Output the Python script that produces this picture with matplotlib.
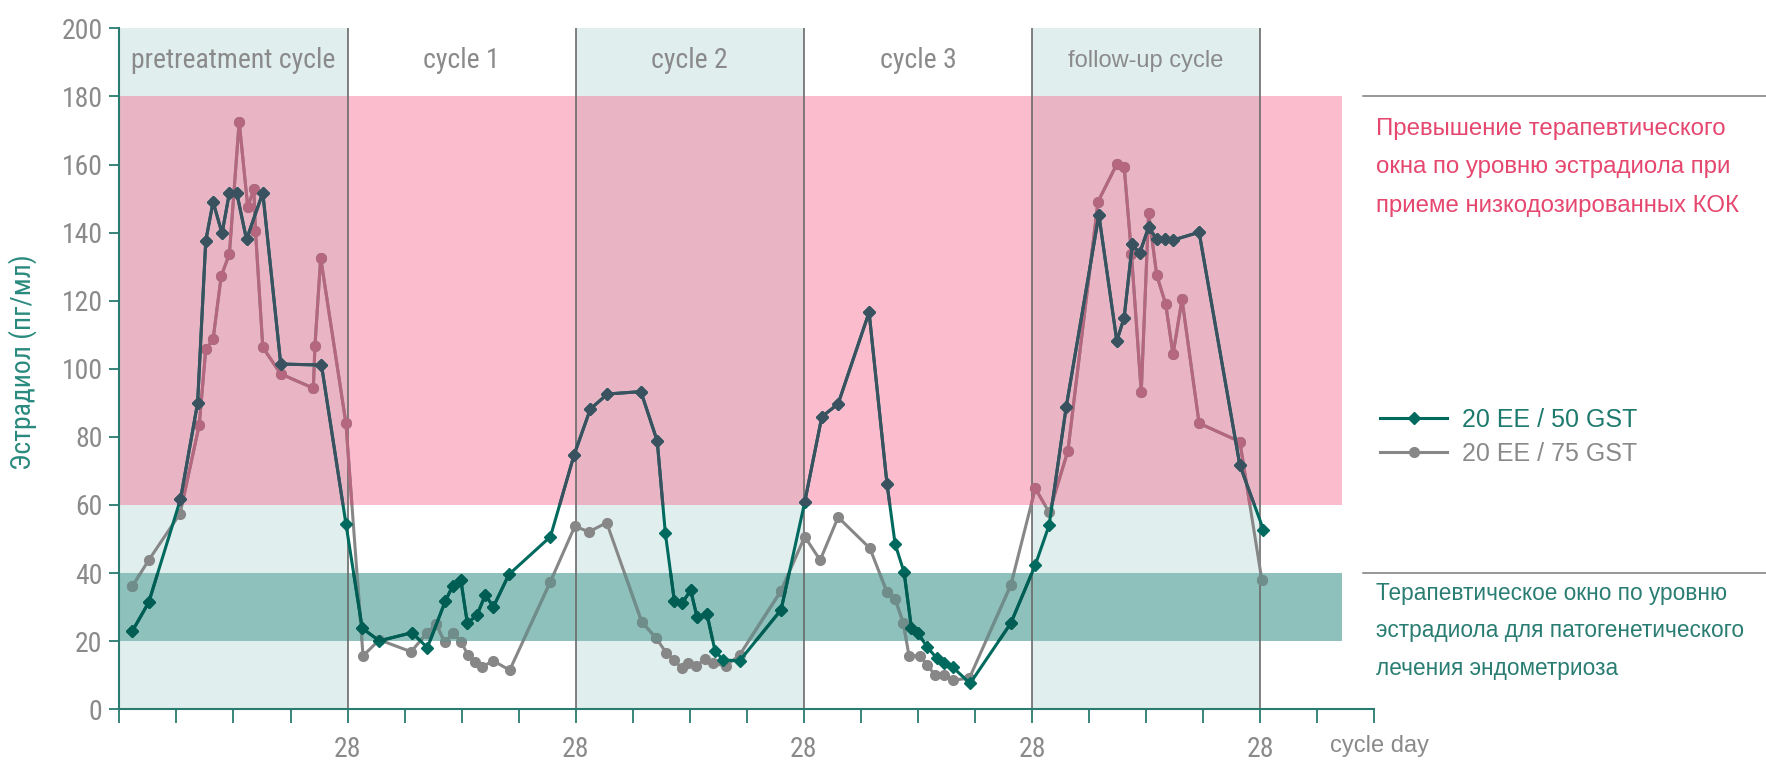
import matplotlib
matplotlib.use("Agg")
import matplotlib.pyplot as plt
import matplotlib.transforms as mtransforms
from matplotlib import font_manager
from matplotlib.patches import Rectangle

# ---------------------------------------- data -------------------------
cycle_names = ["pretreatment cycle", "cycle 1", "cycle 2", "cycle 3", "follow-up cycle"]
cycle_len = 28

day_50 = [1.6, 3.6, 7.5, 9.6, 10.6, 11.5, 12.6, 13.5, 14.4, 15.6, 17.6, 19.8, 24.8, 27.8,
          29.8, 31.9, 35.9, 37.8, 40.0, 40.9, 41.9, 42.7, 43.9, 44.9, 45.9, 47.8, 52.9,
          55.8, 57.8, 59.9, 64.0, 66.0, 67.0, 68.1, 69.1, 70.1, 70.9, 72.1, 73.1, 74.1, 76.1, 81.2, 84.1,
          86.2, 88.2, 92.0, 94.2, 95.2, 96.3, 97.2, 98.0, 99.1, 100.3, 101.2, 102.3, 104.4, 109.4, 112.4,
          114.1, 116.2, 120.2, 122.4, 123.3, 124.3, 125.2, 126.3, 127.3, 128.3, 129.3, 132.5, 137.5, 140.4]
e2_50 = [23.0, 31.4, 61.7, 90.0, 137.6, 149.0, 139.8, 151.7, 151.7, 138.0, 151.7, 101.4, 101.1, 54.5,
         23.8, 20.1, 22.5, 18.1, 31.8, 36.2, 38.0, 25.3, 27.7, 33.6, 30.1, 39.6, 50.7,
         74.7, 88.2, 92.6, 93.3, 78.8, 51.7, 31.9, 31.3, 35.0, 27.0, 28.0, 17.1, 14.5, 14.2, 29.2, 60.8,
         85.9, 89.7, 116.6, 66.2, 48.5, 40.2, 23.8, 22.3, 18.4, 15.0, 13.5, 12.3, 7.6, 25.3, 42.4,
         54.1, 88.9, 145.2, 108.2, 115.0, 136.6, 133.9, 141.6, 138.1, 138.1, 137.8, 140.1, 71.7, 52.7]

day_75 = [1.6, 3.6, 7.45, 9.8, 10.6, 11.5, 12.5, 13.5, 14.7, 15.75, 16.5, 16.7, 17.6, 19.8, 23.8, 24.0, 24.7, 27.8,
          29.9, 31.9, 35.8, 37.7, 38.9, 39.9, 41.0, 41.9, 42.8, 43.7, 44.5, 45.9, 47.9, 52.9,
          55.9, 57.6, 59.8, 64.1, 65.9, 67.1, 68.1, 69.0, 69.8, 70.7, 71.9, 72.9, 74.4, 76.1, 81.2, 84.1,
          86.0, 88.2, 92.1, 94.2, 95.2, 96.2, 96.9, 98.3, 99.1, 100.1, 101.2, 102.3, 104.3, 109.4, 112.4,
          114.1, 116.4, 120.1, 122.4, 123.3, 124.2, 125.4, 126.3, 127.3, 128.4, 129.3, 130.4, 132.5, 137.5, 140.2]
e2_75 = [36.2, 43.8, 57.5, 83.5, 105.7, 108.7, 127.3, 133.7, 172.6, 147.6, 152.7, 140.5, 106.3, 98.5, 94.3, 106.7, 132.6, 84.0,
         15.7, 20.4, 16.9, 22.3, 25.0, 19.7, 22.3, 19.9, 15.9, 14.0, 12.5, 14.2, 11.5, 37.5,
         53.8, 52.1, 54.8, 25.7, 20.8, 16.6, 14.5, 12.0, 13.7, 12.7, 14.7, 13.5, 12.7, 15.9, 34.8, 50.7,
         43.8, 56.4, 47.3, 34.4, 32.3, 25.4, 15.7, 15.7, 13.0, 10.1, 10.1, 8.6, 9.1, 36.5, 64.9,
         57.8, 75.9, 149.1, 160.1, 159.4, 133.7, 93.1, 145.8, 127.5, 119.0, 104.2, 120.4, 84.0, 78.6, 37.9]

high_band = (60, 180)    # above therapeutic window
ther_band = (20, 40)     # therapeutic window
band_end = 150

pink_text = "Превышение терапевтического\nокна по уровню эстрадиола при\nприеме низкодозированных КОК"
teal_text = "Терапевтическое окно по уровню\nэстрадиола для патогенетического\nлечения эндометриоза"

# ---------------------------------------- fonts -------------------------
installed = {f.name for f in font_manager.fontManager.ttflist}
narrow = next((f for f in ["Liberation Sans Narrow", "Roboto Condensed"] if f in installed), "DejaVu Sans")
arial = "Liberation Sans" if "Liberation Sans" in installed else "DejaVu Sans"
plt.rcParams["font.family"] = [narrow, "DejaVu Sans"]
if narrow == "DejaVu Sans":
    plt.rcParams["font.stretch"] = "condensed"

c_col = "#e1eeee"
c_pink = "#fbbccd"
c_mauve = "#e9b5c5"
c_teal = "#8ec0bc"
c_axis = "#2a7b70"
c_grey_txt = "#8a8a8a"

fig = plt.figure(figsize=(17.66, 7.63), dpi=100)
ax = fig.add_axes([0.0676, 0.0704, 0.7106, 0.8925])
ax.set_xlim(0, 154)
ax.set_ylim(0, 200)

# background columns and bands
for i, name in enumerate(cycle_names):
    x0 = i * cycle_len
    if i % 2 == 0:
        ax.add_patch(Rectangle((x0, 0), cycle_len, 200, color=c_col, lw=0, zorder=0))
ax.add_patch(Rectangle((0, high_band[0]), band_end, high_band[1] - high_band[0], color=c_pink, lw=0, zorder=1))
for i in range(0, len(cycle_names), 2):
    ax.add_patch(Rectangle((i * cycle_len, high_band[0]), cycle_len, high_band[1] - high_band[0],
                           color=c_mauve, lw=0, zorder=1.1))
ax.add_patch(Rectangle((0, ther_band[0]), band_end, ther_band[1] - ther_band[0], color=c_teal, lw=0, zorder=1.2))
ax.vlines([cycle_len * (i + 1) for i in range(len(cycle_names))], 0, 200, color="#6b6b6b", lw=1.2, zorder=2)

for i, name in enumerate(cycle_names):
    fam = arial if name == "follow-up cycle" else None
    ax.text(i * cycle_len + cycle_len / 2, 190.5, name, ha="center", va="center", color=c_grey_txt,
            fontsize=17 if fam else 20, family=fam)


def draw_series(days, vals, marker, ms, colors, label, z):
    base, in_pink, in_teal = colors
    line, = ax.plot(days, vals, color=base, marker=marker, ms=ms, lw=2.2, zorder=z, label=label)
    for c, band in ((in_pink, high_band), (in_teal, ther_band)):
        l2, = ax.plot(days, vals, color=c, marker=marker, ms=ms, lw=2.2, zorder=z + 0.05)
        l2.set_clip_path(Rectangle((0, band[0]), band_end, band[1] - band[0], transform=ax.transData))
    return line


l75 = draw_series(day_75, e2_75, "o", 7, ("#878787", "#b4677f", "#6f8e8b"), "20 EE / 75 GST", 3)
l50 = draw_series(day_50, e2_50, "D", 6.3, ("#006a5e", "#3a5260", "#005d54"), "20 EE / 50 GST", 3.2)

# axes styling
for s in ["top", "right"]:
    ax.spines[s].set_visible(False)
for s in ["left", "bottom"]:
    ax.spines[s].set_color(c_axis)
    ax.spines[s].set_linewidth(1.5)
ax.set_yticks(range(0, 201, 20))
xt = list(range(0, 155, 7))
ax.set_xticks(xt)
ax.set_xticklabels(["28" if d > 0 and d % cycle_len == 0 else "" for d in xt])
ax.tick_params(axis="y", color=c_axis, labelcolor=c_grey_txt, length=7, width=1.3, labelsize=20, pad=5)
ax.tick_params(axis="x", color=c_axis, labelcolor=c_grey_txt, length=10, width=1.3, labelsize=20, pad=9)
ax.text(148.6, -10.7, "cycle day", ha="left", va="center", color=c_grey_txt, fontsize=17, family=arial,
        clip_on=False)
ax.text(-0.077, 0.51, "Эстрадиол (пг/мл)", transform=ax.transAxes, rotation=90, ha="center", va="center",
        color="#2a8a7e", fontsize=20)

# right-hand annotations
tr = mtransforms.blended_transform_factory(fig.transFigure, ax.transData)
for yv in (high_band[1], ther_band[1]):
    ax.plot([0.772, 1.0], [yv, yv], color="#7a7a7a", lw=1.1, transform=tr, clip_on=False)
fig.text(0.779, 0.781, pink_text, color="#e5476f", fontsize=17.3, family=arial, va="center", ha="left",
         linespacing=1.97)
fig.text(0.779, 0.1734, teal_text, color="#2a7d72", fontsize=16.3, family=arial, va="center", ha="left",
         linespacing=1.8)

leg = ax.legend(handles=[l50, l75], loc="center left", bbox_to_anchor=(0.7814, 0.4273),
                bbox_transform=fig.transFigure, frameon=False, prop={"family": arial, "size": 18},
                handlelength=2.7, handletextpad=0.6, labelspacing=0.42, borderpad=0, borderaxespad=0)
for t, c in zip(leg.get_texts(), ["#1f7a6e", c_grey_txt]):
    t.set_color(c)

plt.savefig("out.png", dpi=100)
